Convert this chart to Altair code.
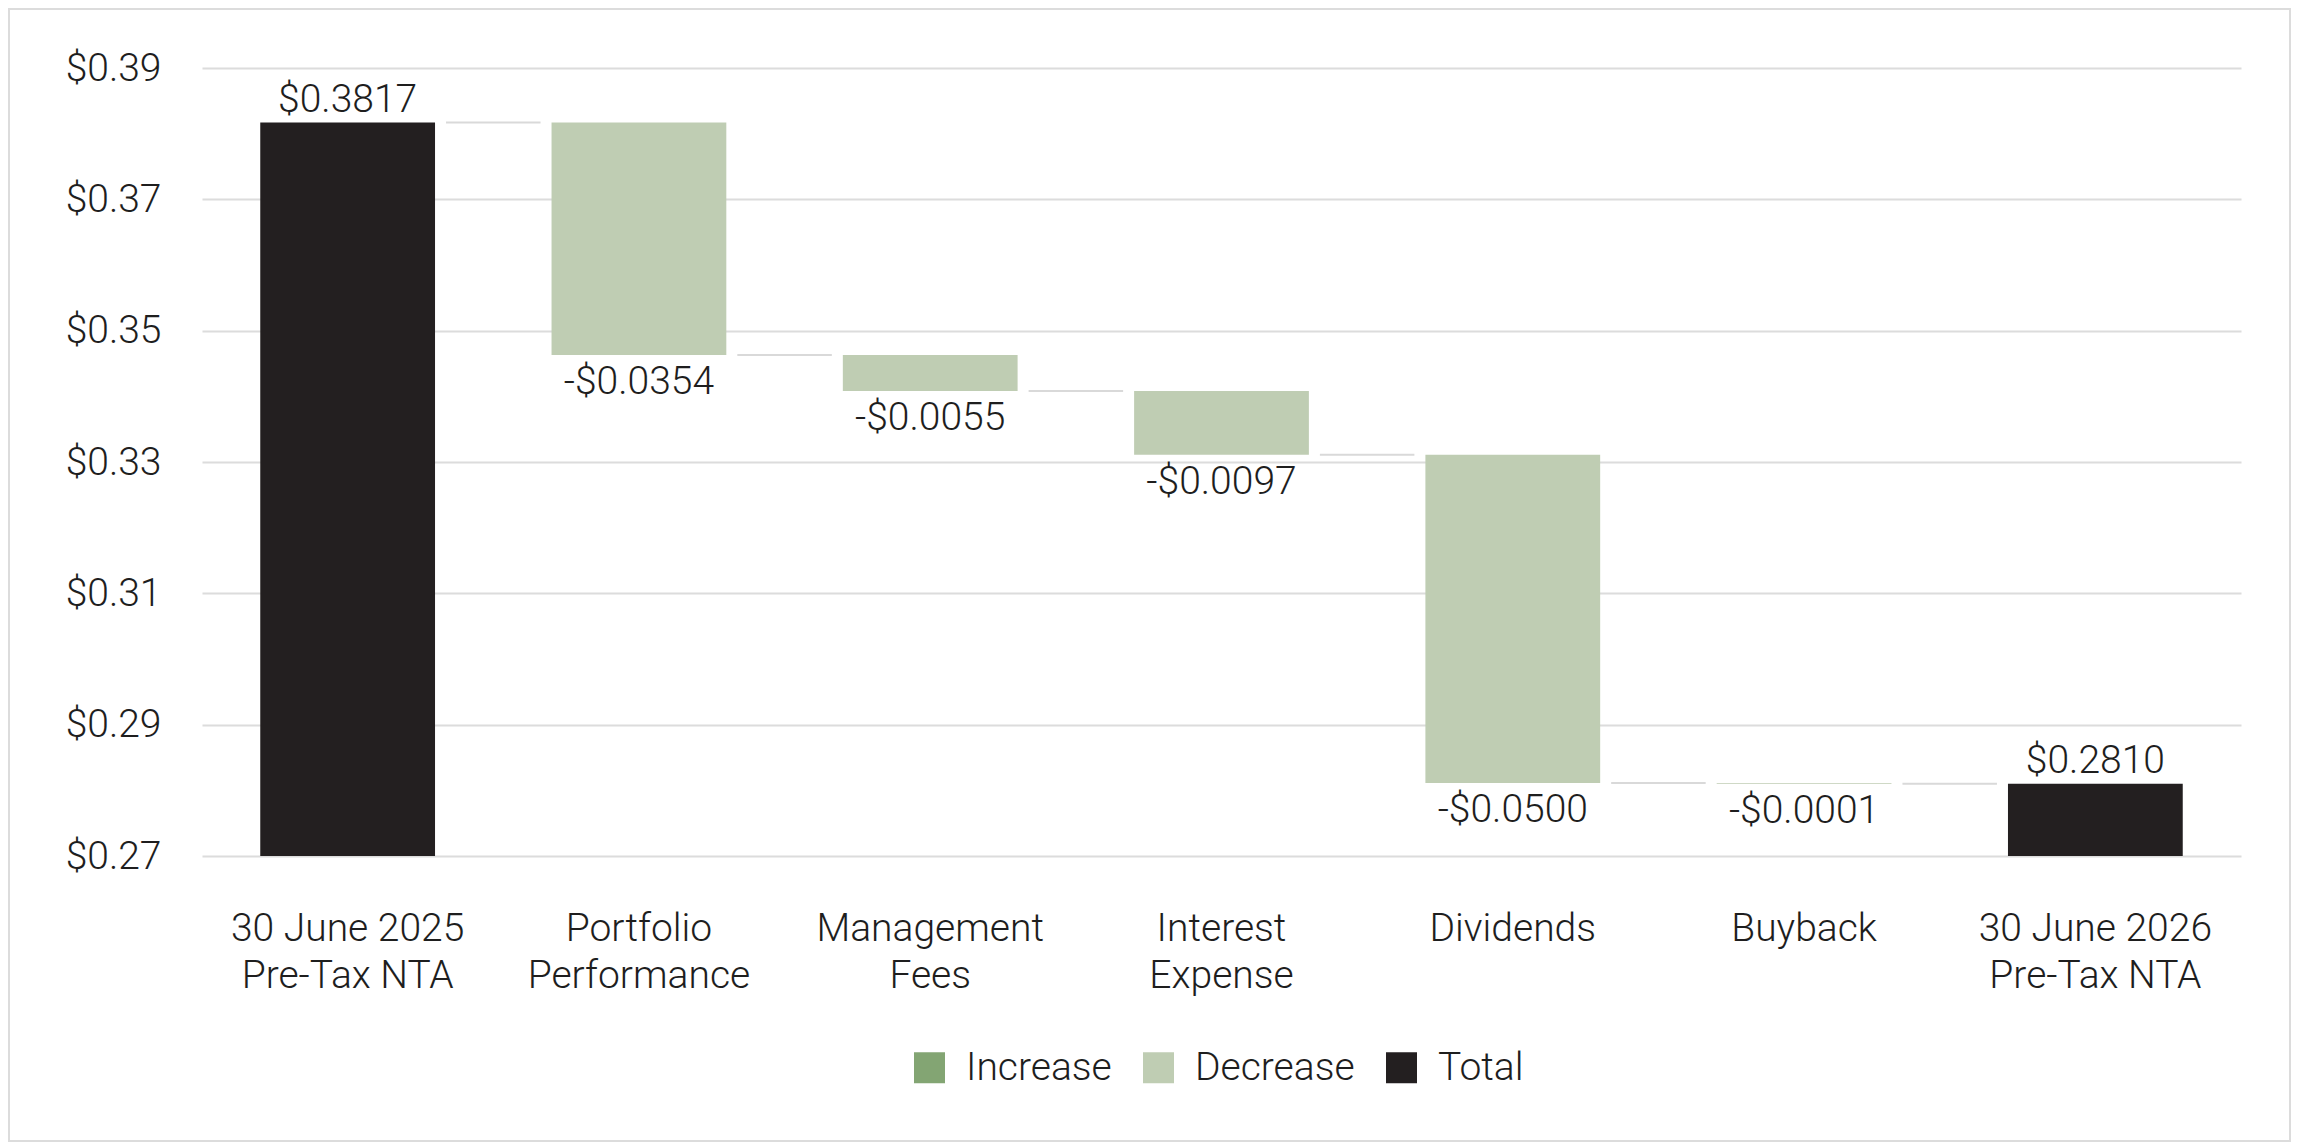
import altair as alt
import pandas as pd

categories = [
    "30 June 2025\nPre-Tax NTA",
    "Portfolio\nPerformance",
    "Management\nFees",
    "Interest\nExpense",
    "Dividends",
    "Buyback",
    "30 June 2026\nPre-Tax NTA",
]
kinds = ["Total", "Decrease", "Decrease", "Decrease", "Decrease", "Decrease", "Total"]
amounts = [0.3817, -0.0354, -0.0055, -0.0097, -0.0500, -0.0001, 0.2810]

y_ticks = [0.27, 0.29, 0.31, 0.33, 0.35, 0.37, 0.39]
legend_order = ["Increase", "Decrease", "Total"]
legend_colors = ["#83a573", "#bfcdb3", "#231f20"]

FONT = "Roboto"
FONT_SIZE = 39
TEXT_COLOR = "#1e1e1e"

# running waterfall levels
rows = []
level = 0.0
for cat, kind, amt in zip(categories, kinds, amounts):
    if kind == "Total":
        start, end = 0.0, amt
        label = f"${amt:.4f}"
    else:
        start, end = level, level + amt
        label = f"-${abs(amt):.4f}" if amt < 0 else f"${amt:.4f}"
    level = end
    rows.append(dict(category=cat, kind=kind, start=start, end=end, label=label))
df = pd.DataFrame(rows)
df["next"] = df["category"].shift(-1)
conn = df.iloc[:-1]

x_enc = alt.X(
    "category:N",
    sort=categories,
    scale=alt.Scale(paddingInner=0.4, paddingOuter=0.2),
    axis=alt.Axis(
        title=None,
        labelExpr="split(datum.label, '\\n')",
        labelAngle=0,
        labelLimit=0,
        labelFont=FONT,
        labelFontWeight=300,
        labelFontSize=FONT_SIZE,
        labelColor=TEXT_COLOR,
        labelLineHeight=47,
        labelPadding=53,
        ticks=False,
        tickSize=0,
        domain=False,
        grid=False,
    ),
)
y_scale = alt.Scale(domain=[y_ticks[0], y_ticks[-1]], nice=False, zero=False)

bars = (
    alt.Chart(df)
    .mark_bar(clip=True)
    .encode(
        x=x_enc,
        y=alt.Y(
            "start:Q",
            scale=y_scale,
            axis=alt.Axis(
                title=None,
                values=y_ticks,
                format="$.2f",
                labelFont=FONT,
                labelFontWeight=300,
                labelFontSize=FONT_SIZE,
                labelColor=TEXT_COLOR,
                labelPadding=41,
                ticks=False,
                tickSize=0,
                domain=False,
                gridColor="#dcdcdc",
                gridWidth=2,
            ),
        ),
        y2="end:Q",
        color=alt.Color(
            "kind:N",
            scale=alt.Scale(domain=legend_order, range=legend_colors),
            legend=alt.Legend(
                title=None,
                orient="none",
                direction="horizontal",
                legendX=708,
                legendY=980,
                symbolType="square",
                symbolSize=961,
                symbolStrokeWidth=0,
                symbolOpacity=1,
                labelFont=FONT,
                labelFontWeight=300,
                labelFontSize=FONT_SIZE,
                labelColor=TEXT_COLOR,
                labelOffset=17,
                columnPadding=27,
                padding=0,
            ),
        ),
    )
)

connectors = (
    alt.Chart(conn)
    .mark_rule(color="#d9d9d9", strokeWidth=2, xOffset=11, x2Offset=-11)
    .encode(
        x=alt.X("category:N", sort=categories, bandPosition=1),
        x2=alt.X2("next:N", bandPosition=0),
        y="end:Q",
    )
)

text_style = dict(font=FONT, fontWeight=300, fontSize=FONT_SIZE, color=TEXT_COLOR, baseline="alphabetic")

total_labels = (
    alt.Chart(df)
    .transform_filter(alt.datum.kind == "Total")
    .mark_text(dy=-11, **text_style)
    .encode(x=alt.X("category:N", sort=categories), y="end:Q", text="label:N")
)

change_labels = (
    alt.Chart(df)
    .transform_filter(alt.datum.kind != "Total")
    .mark_text(dy=39, **text_style)
    .encode(x=alt.X("category:N", sort=categories), y="end:Q", text="label:N")
)

frame = (
    alt.Chart(pd.DataFrame({"f": [0]}))
    .mark_rect(fill="transparent", stroke="#dcdcdc", strokeWidth=2)
    .encode(x=alt.value(-193), x2=alt.value(2088), y=alt.value(-59), y2=alt.value(1073))
)

chart = (
    alt.layer(frame, bars, connectors, total_labels, change_labels)
    .properties(
        width=2039,
        height=788,
        autosize=alt.AutoSizeParams(type="none"),
        padding={"left": 194, "top": 60, "right": 50, "bottom": 286},
        background="white",
    )
    .configure_view(stroke=None)
)

chart.save("out.html", embed_options={"renderer": "svg", "actions": False})
